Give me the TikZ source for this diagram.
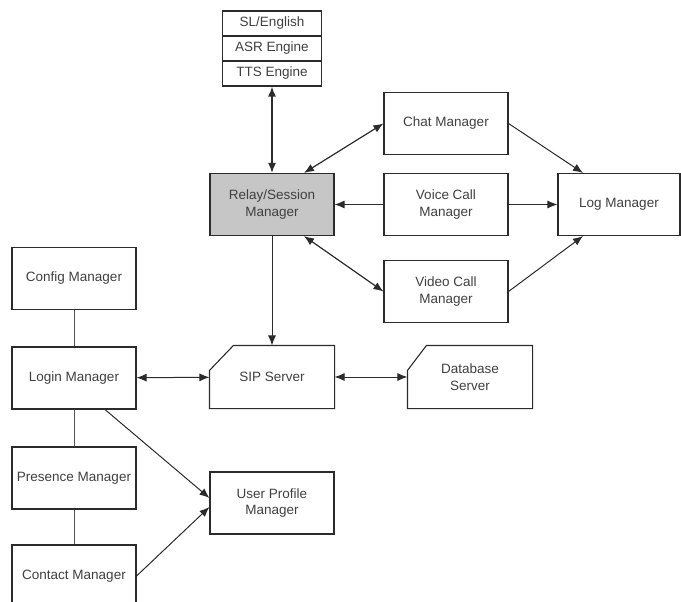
\documentclass[tikz,border=0pt]{standalone}
\usepackage{fontspec}
\setmainfont{Liberation Sans}
\usetikzlibrary{arrows.meta,positioning}
\definecolor{boxline}{HTML}{2B2B2B}
\definecolor{boxtext}{HTML}{404040}
\definecolor{relaygray}{HTML}{C6C6C6}
\tikzset{
  module/.style={draw=boxline, rectangle, line width=1.1pt, text=boxtext, align=center, inner sep=0pt,
    minimum width=124pt, minimum height=62pt, font=\fontsize{13.5}{16.5}\selectfont},
  engine/.style={module, minimum width=99pt, minimum height=25pt},
  server/.style={module, draw=none},
  link/.style={draw=boxline, line width=1pt, -{Latex[length=10pt,width=8pt]}},
  duplex/.style={link, {Latex[length=10pt,width=8pt]}-{Latex[length=10pt,width=8pt]}},
  joint/.style={draw=boxline!80, line width=1pt}
}
\begin{document}
\begin{tikzpicture}[x=1pt, y=-1pt]
\useasboundingbox (0,0) rectangle (681,602);
\clip (0,0) rectangle (681,602);

% relay and its engines
\node (relay) [module, fill=relaygray] at (272,204.5) {Relay/Session\\Manager};
\node (tts) [engine, above of=relay, node distance=131pt] {TTS Engine};
\node (asr) [engine, above of=tts, node distance=25pt] {ASR Engine};
\node (sl) [engine, above of=asr, node distance=25pt] {SL/English};

% call managers
\node (voice) [module, right of=relay, node distance=174pt] {Voice Call\\Manager};
\node (chat) [module, above of=voice, node distance=81pt] {Chat Manager};
\node (video) [module, below of=voice, node distance=87pt] {Video Call\\Manager};
\node (log) [module, minimum width=122pt, right of=voice, node distance=173pt] {Log Manager};

% servers
\node (sip) [server, below of=relay, node distance=172.5pt] {SIP Server};
\node (db) [server, right of=sip, node distance=198pt] {Database\\Server};
\node (profile) [module, below of=sip, node distance=126pt] {User Profile\\Manager};
\draw [boxline, line width=1.1pt] ([xshift=24pt]sip.north west) -- (sip.north east) -- (sip.south east)
  -- (sip.south west) -- ([yshift=-25pt]sip.north west) -- cycle;
\draw [boxline, line width=1.1pt] ([xshift=19pt]db.north west) -- (db.north east) -- (db.south east)
  -- (db.south west) -- ([yshift=-25pt]db.north west) -- cycle;

% left column
\node (config) [module] at (74,278.5) {Config Manager};
\node (login) [module, below of=config, node distance=99.5pt] {Login Manager};
\node (presence) [module, below of=login, node distance=100pt] {Presence Manager};
\node (contact) [module, below of=presence, node distance=98pt] {Contact Manager};

\draw [joint] (config) -- (login);
\draw [joint] (login) -- (presence);
\draw [joint] (presence) -- (contact);

\draw [duplex, line width=1.5pt] (tts) -- (relay);
\draw [duplex, line width=1.2pt] ([xshift=32pt]relay.north) -- (chat.west);
\draw [link] (voice) -- (relay);
\draw [duplex, line width=1.2pt] ([xshift=32pt]relay.south) -- (video.west);
\draw [link] (chat.east) -- ([xshift=-36pt]log.north);
\draw [link] (voice) -- (log);
\draw [link] (video.east) -- ([xshift=-36pt]log.south);
\draw [link] (relay) -- (sip);
\draw [duplex] (login) -- (sip);
\draw [duplex] (sip) -- (db);
\draw [link] ([xshift=31pt]login.south) -- ([yshift=5pt]profile.west);
\draw [link] (contact.east) -- ([yshift=-4pt]profile.west);
\end{tikzpicture}
\end{document}
